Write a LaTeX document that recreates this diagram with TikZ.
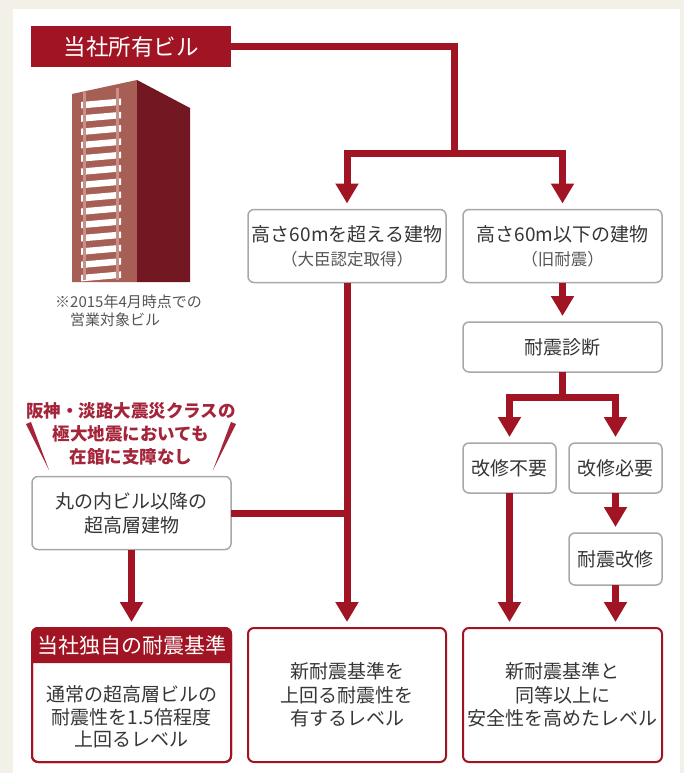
\documentclass[tikz,border=0pt]{standalone}
\usepackage{fontspec}
\setmainfont{Noto Sans CJK JP}
\usetikzlibrary{arrows.meta}

\definecolor{brandred}{HTML}{A11423}
\definecolor{alertred}{HTML}{A4243A}
\definecolor{facade}{HTML}{A65E55}
\definecolor{facadeside}{HTML}{731722}
\definecolor{mullion}{HTML}{C99088}
\definecolor{boxgray}{HTML}{A8A8A8}
\definecolor{inkgray}{HTML}{363636}
\definecolor{notegray}{HTML}{555555}
\definecolor{paper}{HTML}{F3F0E7}

\begin{document}
\begin{tikzpicture}[x=1pt, y=-1pt,
    box/.style={draw=boxgray, line width=1.5pt, fill=white, rounded corners=6pt,
        inner sep=0pt, outer sep=0pt, align=center, text=inkgray,
        font=\fontsize{19}{24}\selectfont},
    resbox/.style={box, draw=brandred, line width=2pt, font=\fontsize{19}{23.5}\selectfont},
    link/.style={draw=brandred, line width=7pt},
    arr/.style={link, -{Triangle[length=20pt,width=22pt]}, shorten >=6pt}]
    % page and panel
    \useasboundingbox (0,0) rectangle (684,773);
    \fill[paper] (0,0) rectangle (684,773);
    \fill[white] (13,9) rectangle (680,773);

    % tower: front face, side face, window bands and mullions
    \fill[facade] (72,94) -- (137,80) -- (137,282) -- (72,282) -- cycle;
    \fill[facadeside] (137,80) -- (190,108) -- (190,282) -- (137,282) -- cycle;
    \foreach \r in {0,...,13} {
        \fill[white] (81,{102+13.3*\r}) -- (121,{98.5+13.3*\r})
            -- (121,{105+13.3*\r}) -- (81,{108.5+13.3*\r}) -- cycle;
    }
    \draw[mullion, line width=2.2pt] (84.5,92) -- (84.5,280);
    \draw[mullion, line width=2.2pt] (117.5,88) -- (117.5,280);

    % top-left label and note
    \node[fill=brandred, minimum width=200pt, minimum height=41pt, inner sep=0pt,
        text=white, font=\fontsize{22.5}{26}\selectfont] (owned) at (131,46.5) {当社所有ビル};
    \node[anchor=west, align=left, inner sep=0pt, text=notegray,
        font=\fontsize{15}{18}\selectfont] (note) at (55,311)
        {※2015年4月時点での\\\phantom{※}営業対象ビル};

    % flow boxes
    \node[box, minimum width=198pt, minimum height=73pt] (tall) at (347,246)
        {高さ60mを超える建物\\{\fontsize{16.5}{24}\selectfont\color{notegray}（大臣認定取得）}};
    \node[box, minimum width=199pt, minimum height=73pt] (low) at (562.5,246)
        {高さ60m以下の建物\\{\fontsize{16.5}{24}\selectfont\color{notegray}（旧耐震）}};
    \node[box, minimum width=199pt, minimum height=50pt] (diag) at (562.5,347) {耐震診断};
    \node[box, minimum width=93pt, minimum height=50pt] (nofix) at (509.5,468) {改修不要};
    \node[box, minimum width=93pt, minimum height=50pt] (needfix) at (615.5,468) {改修必要};
    \node[box, minimum width=93pt, minimum height=52pt] (retrofit) at (615.5,559) {耐震改修};
    \node[box, minimum width=199pt, minimum height=73pt] (marunouchi) at (131.5,513)
        {丸の内ビル以降の\\超高層建物};

    % red callout with its two spikes
    \node[align=center, inner sep=0pt, text=alertred,
        font=\bfseries\fontsize{17.5}{23}\selectfont] (quake) at (131,434)
        {阪神・淡路大震災クラスの\\極大地震においても\\在館に支障なし};
    \fill[alertred] (26,424) -- (31,422) -- (49,470) -- cycle;
    \fill[alertred] (236,424) -- (231,422) -- (213,470) -- cycle;

    % result boxes
    \node[resbox, minimum width=199pt, minimum height=134pt] (resL) at (131.5,695) {};
    \fill[brandred] (resL.west |- 0,663) [rounded corners=6pt] -- (resL.north west)
        -- (resL.north east) [sharp corners] -- (resL.east |- 0,663) -- cycle;
    \draw[brandred, line width=2pt, rounded corners=6pt] (resL.south west) rectangle (resL.north east);
    \node[inner sep=0pt, text=white, font=\fontsize{21}{24}\selectfont] (resLhead)
        at (131.5,645.5) {当社独自の耐震基準};
    \node[align=center, inner sep=0pt, text=inkgray, font=\fontsize{19}{22.5}\selectfont]
        (resLbody) at (131.5,717) {通常の超高層ビルの\\耐震性を1.5倍程度\\上回るレベル};
    \node[resbox, minimum width=198pt, minimum height=134pt] (resA) at (347,695)
        {新耐震基準を\\上回る耐震性を\\有するレベル};
    \node[resbox, minimum width=199pt, minimum height=134pt] (resB) at (562.5,695)
        {新耐震基準と\\同等以上に\\安全性を高めたレベル};

    % connectors
    \coordinate (fork) at (454,153);
    \draw[link] (owned.east) -| (fork);
    \draw[arr] (fork) -| (tall.north);
    \draw[arr] (fork) -| (low.north);
    \draw[arr] (low.south) -- (diag.north);
    \coordinate (fork2) at (562.5,397);
    \draw[link] (diag.south) -- (fork2);
    \draw[arr] (fork2) -| (nofix.north);
    \draw[arr] (fork2) -| (needfix.north);
    \draw[arr] (needfix.south) -- (retrofit.north);
    \draw[arr] (nofix.south) -- (nofix.south |- resB.north);
    \draw[arr] (retrofit.south) -- (retrofit.south |- resB.north);
    \draw[arr] (tall.south) -- (resA.north);
    \draw[link] (marunouchi.east) -- (marunouchi.east -| tall.south);
    \draw[arr] (marunouchi.south) -- (resL.north);
\end{tikzpicture}
\end{document}
